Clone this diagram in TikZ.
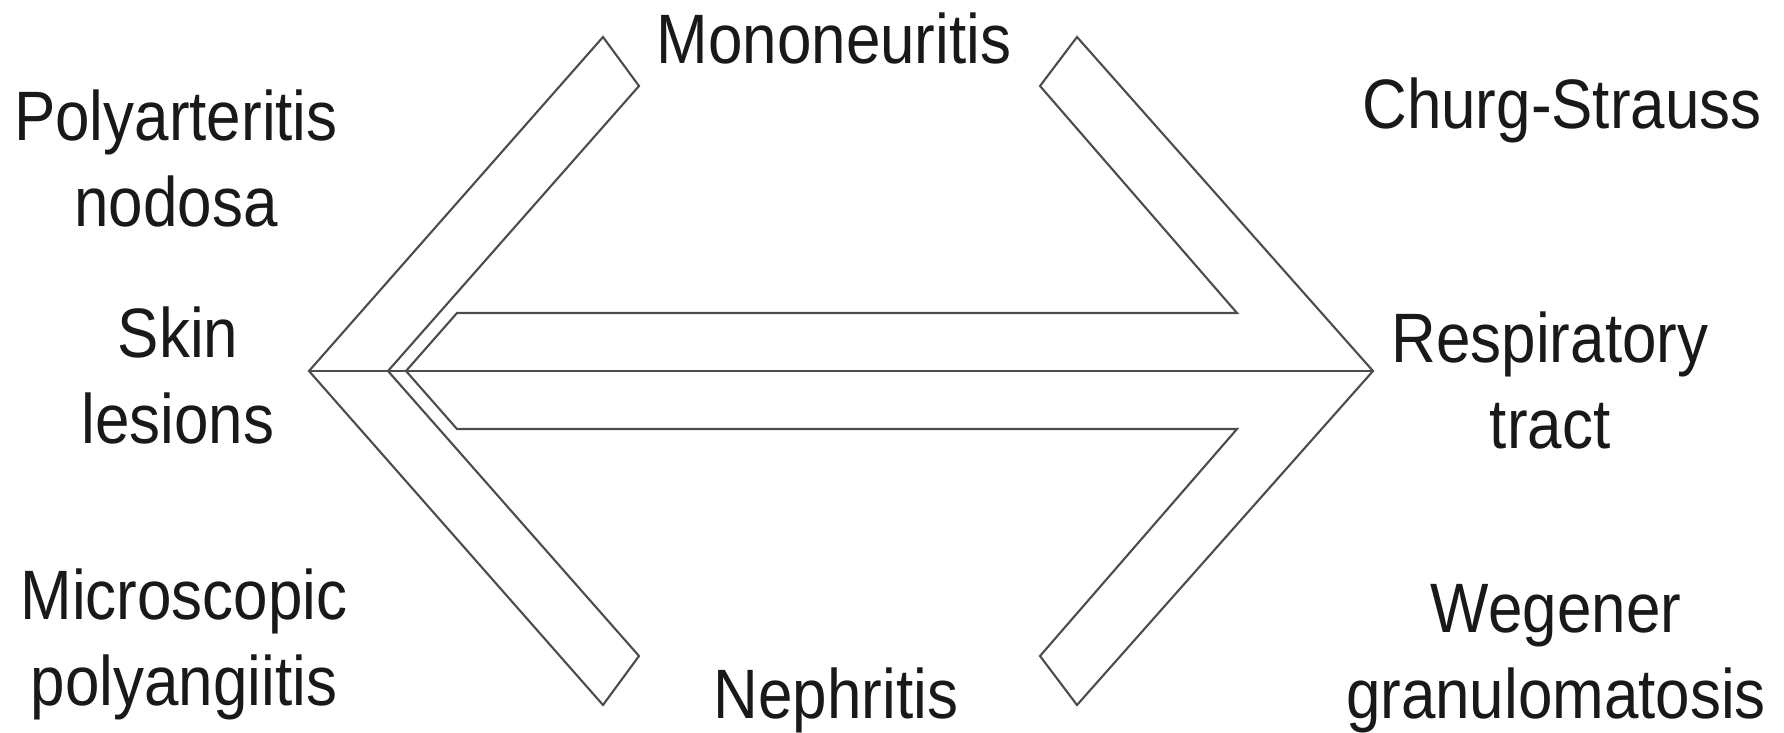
\documentclass[tikz,border=0pt]{standalone}
\usepackage{fontspec}
\setmainfont{Liberation Sans}[FakeStretch=0.885]
\usepackage{tikz}
\usetikzlibrary{positioning, calc}
\tikzset{
    lbl/.style={inner sep=0pt, align=center, anchor=base, text=black!90,
        font=\fontsize{19.9pt}{24.2pt}\selectfont},
    outline/.style={draw=black!70, line width=0.6pt, line join=miter}
}

\begin{document}
\begin{tikzpicture}[x=0.01cm, y=-0.01cm]
    \useasboundingbox (0,0) rectangle (1784,733);
    % left chevron and double arrow
    \draw [outline] (603,37) -- (309,371) -- (603,705) -- (639,656) -- (388,371) -- (639,86) -- cycle;
    \draw [outline] (1077,37) -- (1373,371) -- (1077,705) -- (1040,656) -- (1237,429) -- (457,429)
        -- (406,371) -- (457,313) -- (1237,313) -- (1040,86) -- cycle;
    \draw [outline] (309,371) -- (1373,371);

    \node (pan) [lbl] at (176,226) {Polyarteritis\\nodosa};
    \node (skin) [lbl] at (178,443) {Skin\\lesions};
    \node (mpa) [lbl] at (184,705) {Microscopic\\polyangiitis};
    \node (mono) [lbl] at (834,63) {Mononeuritis};
    \node (neph) [lbl] at (836,718) {Nephritis};
    \node (css) [lbl] at (1562,128) {Churg-Strauss};
    \node (resp) [lbl] at (1550,448) {Respiratory\\tract};
    \node (wg) [lbl] at (1556,718) {Wegener\\granulomatosis};
\end{tikzpicture}
\end{document}
